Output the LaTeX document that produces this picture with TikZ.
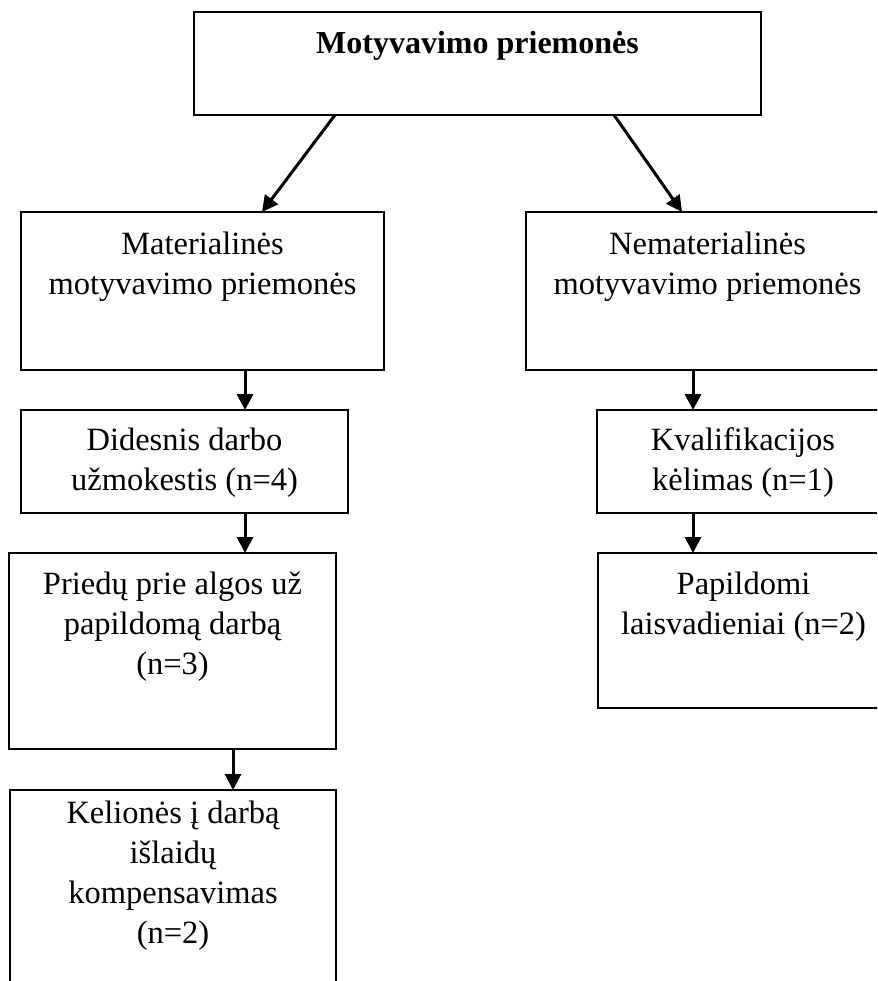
\documentclass[tikz,border=0pt]{standalone}
\usepackage{fontspec}
\setmainfont{Liberation Serif}
\usetikzlibrary{arrows.meta}

\begin{document}
\begin{tikzpicture}[x=1pt,y=-1pt,
  box/.style={draw=black, line width=1.5pt, rectangle, inner sep=0pt, outer sep=0pt},
  lbl/.style={align=center, inner sep=0pt, anchor=north, font=\fontsize{32.5}{40}\selectfont},
  ttl/.style={inner sep=0pt, anchor=base, font=\fontsize{32}{40}\selectfont\bfseries},
  arr/.style={line width=3pt, -{Triangle[width=16pt,length=16pt]}}]
  \useasboundingbox (0,0) rectangle (877,981);
  \clip (0,0) rectangle (877,981);

  % boxes
  \node[box, minimum width=567, minimum height=103] (top)   at (477.5,63.5) {};
  \node[box, minimum width=363, minimum height=158] (mat)   at (202.5,291) {};
  \node[box, minimum width=363, minimum height=158] (nemat) at (707.5,291) {};
  \node[box, minimum width=327, minimum height=103] (did)   at (184.5,461.5) {};
  \node[box, minimum width=292, minimum height=103] (kval)  at (743,461.5) {};
  \node[box, minimum width=327, minimum height=196] (pri)   at (172.5,651) {};
  \node[box, minimum width=291, minimum height=155] (pap)   at (743.5,630.5) {};
  \node[box, minimum width=326, minimum height=230] (kel)   at (173,905) {};

  % texts (first baseline = top + 28)
  \node[ttl] (topT) at (477.5,54) {Motyvavimo priemonės};
  \node[lbl] (matT)   at (202.5,226) {\strut Materialinės\\motyvavimo priemonės};
  \node[lbl] (nematT) at (707.5,226) {\strut Nematerialinės\\motyvavimo priemonės};
  \node[lbl] (didT)   at (184.5,422) {\strut Didesnis darbo\\užmokestis (n=4)};
  \node[lbl] (kvalT)  at (743,422) {\strut Kvalifikacijos\\kėlimas (n=1)};
  \node[lbl] (priT)   at (172.5,566) {\strut Priedų prie algos už\\papildomą darbą\\(n=3)};
  \node[lbl] (papT)   at (743.5,566) {\strut Papildomi\\laisvadieniai (n=2)};
  \node[lbl] (kelT)   at (173,795) {\strut Kelionės į darbą\\išlaidų\\kompensavimas\\(n=2)};

  % connector columns
  \coordinate (cA) at (245,0);
  \coordinate (cB) at (233,0);
  \coordinate (cC) at (693,0);

  \draw[arr] ([xshift=141pt]top.south west) -- ([xshift=241pt]mat.north west);
  \draw[arr] ([xshift=420pt]top.south west) -- ([xshift=156pt]nemat.north west);
  \draw[arr] (mat.south -| cA) -- (did.north -| cA);
  \draw[arr] (did.south -| cA) -- (pri.north -| cA);
  \draw[arr] (pri.south -| cB) -- (kel.north -| cB);
  \draw[arr] (nemat.south -| cC) -- (kval.north -| cC);
  \draw[arr] (kval.south -| cC) -- (pap.north -| cC);
\end{tikzpicture}
\end{document}
